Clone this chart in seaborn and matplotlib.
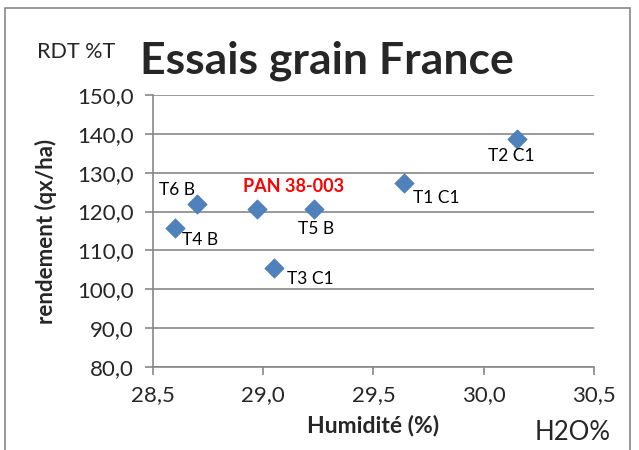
import matplotlib
matplotlib.use("Agg")
import numpy as np
import pandas as pd
import seaborn as sns
from matplotlib import pyplot as plt
from matplotlib.patches import Rectangle
from matplotlib.ticker import FuncFormatter

# data
essais = ["T4 B", "T6 B", "PAN 38-003", "T3 C1", "T5 B", "T1 C1", "T2 C1"]
humidite = [28.6, 28.7, 28.97, 29.05, 29.23, 29.64, 30.15]
rendement = [115.8, 121.9, 120.6, 105.5, 120.6, 127.4, 138.8]

# label offsets in pixels (dx, dy) from the marker
offsets = {
    "T4 B": (25, -12),
    "T6 B": (-20, 14),
    "PAN 38-003": (37, 23),
    "T3 C1": (36, -11),
    "T5 B": (2, -20),
    "T1 C1": (32, -15),
    "T2 C1": (-6, -17),
}

df = pd.DataFrame({"essai": essais, "humidite": humidite, "rendement": rendement})

sns.set_style("white")
plt.rcParams["font.family"] = ["Lato", "DejaVu Sans"]

fig = plt.figure(figsize=(6.39, 4.5), dpi=100)
ax = fig.add_axes([0.2394, 0.1844, 0.6902, 0.6045])

gris = "#878787"

sns.scatterplot(data=df, x="humidite", y="rendement", marker="D", s=95,
                color="#4F81BD", edgecolor="#4a7ab4", linewidth=0.6,
                ax=ax, zorder=3, legend=False)

for nom, x, y in zip(df["essai"], df["humidite"], df["rendement"]):
    dx, dy = offsets[nom]
    if nom.startswith("PAN"):
        ax.annotate(nom, (x, y), xytext=(dx, dy), textcoords="offset pixels",
                    ha="center", va="center", fontsize=13, color="red",
                    fontweight="bold")
    else:
        ax.annotate(nom, (x, y), xytext=(dx, dy), textcoords="offset pixels",
                    ha="center", va="center", fontsize=12.5, color="black")

ax.set_xlim(28.5, 30.5)
ax.set_ylim(80, 150)
ax.set_xticks(np.arange(28.5, 30.51, 0.5))
ax.set_yticks(np.arange(80, 150.1, 10))
fmt = FuncFormatter(lambda v, p: f"{v:.1f}".replace(".", ","))
ax.xaxis.set_major_formatter(fmt)
ax.yaxis.set_major_formatter(fmt)

ax.grid(axis="y", color=gris, linewidth=1.2)
ax.grid(axis="x", visible=False)
ax.set_axisbelow(True)
for side in ["top", "right"]:
    ax.spines[side].set_visible(False)
for side in ["left", "bottom"]:
    ax.spines[side].set_color(gris)
    ax.spines[side].set_linewidth(1.2)
ax.tick_params(axis="both", direction="out", length=6, width=1.2, color=gris,
               labelsize=16, left=True, bottom=True)
ax.tick_params(axis="y", pad=8)
ax.tick_params(axis="x", pad=7)

ax.set_xlabel("Humidité (%)", fontsize=16.5, fontweight="bold", labelpad=7)
ax.set_ylabel("rendement (qx/ha)", fontsize=16, fontweight="bold")
ax.yaxis.set_label_coords(-0.218, 0.5)

fig.text(0.219, 0.864, "Essais grain France", fontsize=32, fontweight="bold",
         ha="left", va="center")
fig.text(0.058, 0.884, "RDT %T", fontsize=15.5, ha="left", va="center")
fig.text(0.955, 0.04, "H2O%", fontsize=18.5, ha="right", va="center")

fig.patches.append(Rectangle((0.008, -0.05), 0.978, 1.032, transform=fig.transFigure,
                             fill=False, edgecolor=gris, linewidth=1.2))

fig.savefig("out.png", dpi=100)
